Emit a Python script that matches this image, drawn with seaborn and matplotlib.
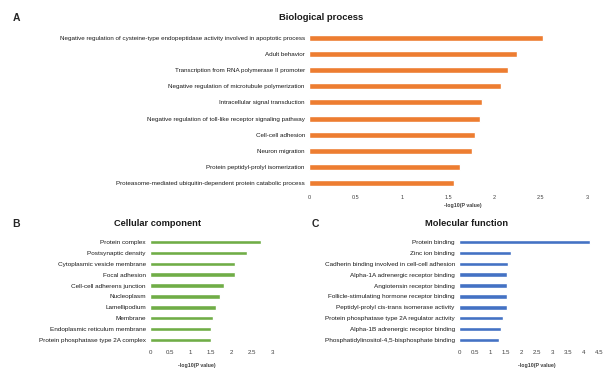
import matplotlib
matplotlib.use("Agg")
import matplotlib.pyplot as plt
import pandas as pd
import seaborn as sns

# GO enrichment terms and -log10(P) values
bp_terms = ["Negative regulation of cysteine-type endopeptidase activity involved in apoptotic process",
            "Adult behavior",
            "Transcription from RNA polymerase II promoter",
            "Negative regulation of microtubule polymerization",
            "Intracellular signal transduction",
            "Negative regulation of toll-like receptor signaling pathway",
            "Cell-cell adhesion",
            "Neuron migration",
            "Protein peptidyl-prolyl isomerization",
            "Proteasome-mediated ubiquitin-dependent protein catabolic process"]
bp_values = [2.52, 2.24, 2.15, 2.07, 1.87, 1.85, 1.79, 1.76, 1.63, 1.57]

cc_terms = ["Protein complex", "Postsynaptic density", "Cytoplasmic vesicle membrane",
            "Focal adhesion", "Cell-cell adherens junction", "Nucleoplasm",
            "Lamellipodium", "Membrane", "Endoplasmic reticulum membrane",
            "Protein phosphatase type 2A complex"]
cc_values = [2.74, 2.38, 2.08, 2.08, 1.82, 1.73, 1.62, 1.56, 1.51, 1.51]

mf_terms = ["Protein binding", "Zinc ion binding", "Cadherin binding involved in cell-cell adhesion",
            "Alpha-1A adrenergic receptor binding", "Angiotensin receptor binding",
            "Follicle-stimulating hormone receptor binding", "Peptidyl-prolyl cis-trans isomerase activity",
            "Protein phosphatase type 2A regulator activity", "Alpha-1B adrenergic receptor binding",
            "Phosphatidylinositol-4,5-bisphosphate binding"]
mf_values = [4.21, 1.68, 1.59, 1.54, 1.54, 1.54, 1.54, 1.43, 1.36, 1.29]

sns.set_style("white")
plt.rcParams["font.family"] = ["Liberation Sans", "DejaVu Sans"]

W, H = 604, 371
fig = plt.figure(figsize=(W / 100, H / 100), dpi=100)


def box(x0, x1, y0, y1):
    # pixel box -> figure fraction
    return [x0 / W, 1 - y1 / H, (x1 - x0) / W, (y1 - y0) / H]


def panel(rect, terms, values, color, xmax, ticks, ticklabels, lab_fs, tick_fs, width):
    ax = fig.add_axes(rect)
    df = pd.DataFrame({"term": terms, "value": values})
    sns.barplot(data=df, x="value", y="term", orient="h", color=color,
                saturation=1, width=width, ax=ax)
    ax.set_xlim(0, xmax)
    ax.set_xticks(ticks)
    ax.set_xticklabels(ticklabels, fontsize=tick_fs, color="#404040")
    ax.tick_params(axis="y", labelsize=lab_fs, colors="#1a1a1a", length=0, pad=3)
    ax.tick_params(axis="x", length=0, pad=3)
    ax.set_xlabel("")
    ax.set_ylabel("")
    sns.despine(ax=ax, left=True, bottom=True)
    return ax


axA = panel(box(309, 587, 30, 191), bp_terms, bp_values, "#ED7D31", 3,
            [0, 0.5, 1, 1.5, 2, 2.5, 3], ["0", "0.5", "1", "1.5", "2", "2.5", "3"], 4.5, 4.0, 0.37)
axB = panel(box(150, 272, 236.5, 345.5), cc_terms, cc_values, "#70AD47", 3,
            [0, 0.5, 1, 1.5, 2, 2.5, 3], ["0", "0.5", "1", "1.5", "2", "2.5", "3"], 4.6, 4.4, 0.4)
axC = panel(box(459, 599, 236.5, 345.5), mf_terms, mf_values, "#4472C4", 4.5,
            [0, 0.5, 1, 1.5, 2, 2.5, 3, 3.5, 4, 4.5],
            ["0", "0.5", "1", "1.5", "2", "2.5", "3", "3.5", "4", "4.5"], 4.6, 4.4, 0.4)

# panel letters, titles and axis labels
fig.text(13 / W, 1 - 18 / H, "A", fontsize=7.5, fontweight="bold", va="center", ha="left")
fig.text(12 / W, 1 - 224 / H, "B", fontsize=7.5, fontweight="bold", va="center", ha="left")
fig.text(312 / W, 1 - 224 / H, "C", fontsize=7.5, fontweight="bold", va="center", ha="left")

fig.text(321 / W, 1 - 17 / H, "Biological process", fontsize=6.8, fontweight="bold",
         va="center", ha="center", color="#1a1a1a")
fig.text(158 / W, 1 - 224 / H, "Cellular component", fontsize=6.7, fontweight="bold",
         va="center", ha="center", color="#1a1a1a")
fig.text(467 / W, 1 - 224 / H, "Molecular function", fontsize=6.7, fontweight="bold",
         va="center", ha="center", color="#1a1a1a")

fig.text(463 / W, 1 - 205 / H, "-log10(P value)", fontsize=3.8, fontweight="bold",
         va="center", ha="center", color="#404040")
fig.text(197 / W, 1 - 365 / H, "-log10(P value)", fontsize=3.8, fontweight="bold",
         va="center", ha="center", color="#404040")
fig.text(537 / W, 1 - 366 / H, "-log10(P value)", fontsize=3.8, fontweight="bold",
         va="center", ha="center", color="#404040")

fig.savefig("out.png", dpi=100)
